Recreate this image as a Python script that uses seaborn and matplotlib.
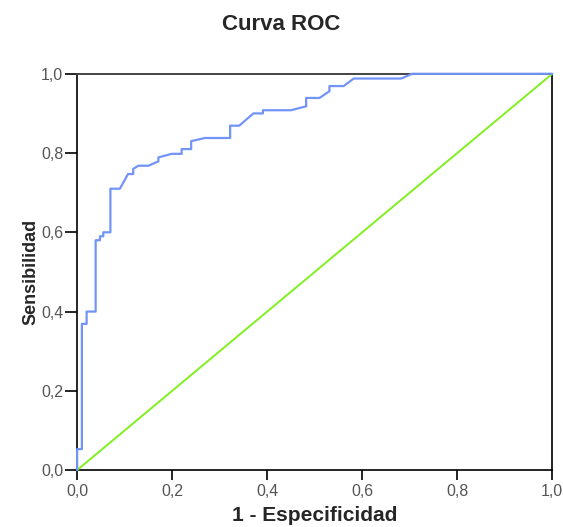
import numpy as np
import pandas as pd
import matplotlib
matplotlib.use("Agg")
import matplotlib.pyplot as plt
import seaborn as sns

fpr = [0.0, 0.0, 0.01, 0.01, 0.02, 0.02, 0.039, 0.039, 0.048, 0.048, 0.055, 0.055,
       0.07, 0.07, 0.09, 0.107, 0.118, 0.118, 0.129, 0.15, 0.171, 0.171, 0.199,
       0.22, 0.22, 0.24, 0.24, 0.269, 0.322, 0.322, 0.341, 0.371, 0.391, 0.391,
       0.45, 0.482, 0.482, 0.51, 0.531, 0.531, 0.561, 0.582, 0.682, 0.705, 1.0]
tpr = [0.0, 0.053, 0.053, 0.369, 0.369, 0.40, 0.40, 0.58, 0.58, 0.59, 0.59, 0.60,
       0.60, 0.71, 0.71, 0.747, 0.747, 0.76, 0.768, 0.768, 0.779, 0.789, 0.798,
       0.798, 0.81, 0.81, 0.83, 0.838, 0.838, 0.869, 0.869, 0.90, 0.90, 0.908,
       0.908, 0.918, 0.939, 0.939, 0.956, 0.969, 0.969, 0.988, 0.988, 1.0, 1.0]
ref_x = [0.0, 1.0]
ref_y = [0.0, 1.0]

ticks = [0.0, 0.2, 0.4, 0.6, 0.8, 1.0]
tick_labels = ["0,0", "0,2", "0,4", "0,6", "0,8", "1,0"]

roc_df = pd.DataFrame({"fpr": fpr, "tpr": tpr})
ref_df = pd.DataFrame({"x": ref_x, "y": ref_y})

# --- style ---
sns.set_style("white")
plt.rcParams["font.family"] = ["Liberation Sans", "DejaVu Sans"]

fig = plt.figure(figsize=(5.63, 5.27), dpi=100)
ax = fig.add_axes([0.137, 0.108, 0.844, 0.752])

sns.lineplot(data=ref_df, x="x", y="y", ax=ax, color="#80f020", lw=1.4,
             estimator=None, sort=False, clip_on=False, zorder=3)
sns.lineplot(data=roc_df, x="fpr", y="tpr", ax=ax, color="#7394f7", lw=1.6,
             estimator=None, sort=False, clip_on=False, zorder=4)

ax.set_xlim(0, 1)
ax.set_ylim(0, 1)
ax.set_xticks(ticks)
ax.set_xticklabels(tick_labels)
ax.set_yticks(ticks)
ax.set_yticklabels(tick_labels)

for side in ["left", "bottom", "right"]:
    ax.spines[side].set_color("black")
    ax.spines[side].set_linewidth(1.2)
ax.spines["top"].set_color("#444444")
ax.spines["top"].set_linewidth(1.4)

ax.tick_params(axis="x", length=7, width=1.2, pad=3, labelsize=11.5,
               labelcolor="#555555", color="black", bottom=True)
ax.tick_params(axis="y", length=9, width=1.2, pad=1, labelsize=11.5,
               labelcolor="#555555", color="black", left=True)

ax.set_xlabel("1 - Especificidad", fontsize=15, fontweight="bold", labelpad=5)
ax.set_ylabel("Sensibilidad", fontsize=13, fontweight="bold", labelpad=1)
fig.suptitle("Curva ROC", fontsize=16, fontweight="bold", y=0.974)

fig.savefig("out.png", dpi=100)
